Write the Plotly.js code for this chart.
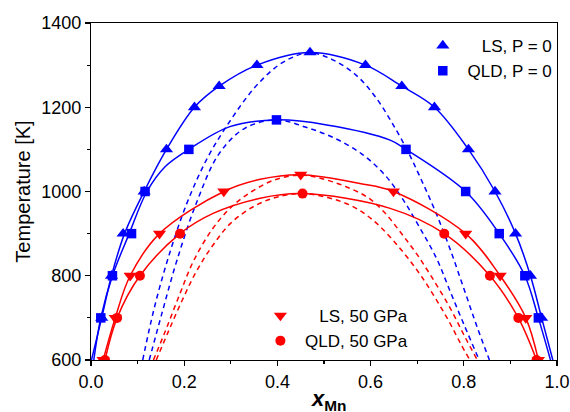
<!DOCTYPE html>
<html>
<head>
<meta charset="utf-8">
<script src="https://cdn.plot.ly/plotly-3.0.1.min.js"></script>
<style>html,body{margin:0;padding:0;background:#fff;}#chart{width:570px;height:412px;}</style>
</head>
<body>
<div id="chart"></div>
<script>
// ---- Marker data (x_Mn, T [K]) ----
const lsP0X  = [0.023,0.044,0.069,0.114,0.162,0.222,0.275,0.356,0.470,0.589,0.667,0.737,0.810,0.867,0.911,0.943,0.967];
const lsP0T  = [700,800,900,1000,1100,1200,1250,1300,1330,1300,1250,1200,1100,1000,900,800,700];
const qldP0X = [0.021,0.046,0.087,0.116,0.210,0.398,0.676,0.804,0.876,0.931,0.960];
const qldP0T = [700,800,900,1000,1100,1170,1100,1000,900,800,700];
const ls50X  = [0.026,0.052,0.084,0.147,0.285,0.450,0.649,0.804,0.878,0.933,0.960];
const ls50T  = [600,700,800,900,1000,1040,1000,900,800,700,600];
const qld50X = [0.030,0.056,0.105,0.191,0.454,0.758,0.856,0.917,0.956];
const qld50T = [600,700,800,900,995,900,800,700,600];

// ---- Binodal curves (solid) ----
const lsP0CurveX  = [0.001,0.023,0.044,0.072,0.114,0.162,0.222,0.275,0.356,0.470,0.589,0.667,0.737,0.810,0.867,0.911,0.943,0.967,0.991];
const lsP0CurveT  = [600,700,800,900,1000,1100,1200,1250,1300,1330,1300,1250,1200,1100,1000,900,800,700,600];
const qldP0CurveX = [0.006,0.021,0.046,0.082,0.120,0.160,0.210,0.298,0.398,0.506,0.642,0.676,0.804,0.876,0.931,0.960,0.986];
const qldP0CurveT = [600,700,800,900,1000,1060,1100,1154,1170,1158,1122,1100,1000,900,800,700,600];
const ls50CurveX  = [0.026,0.052,0.084,0.147,0.285,0.363,0.450,0.577,0.649,0.804,0.878,0.933,0.960];
const ls50CurveT  = [600,700,800,900,1000,1029,1040,1019,1000,900,800,700,600];
const qld50CurveX = [0.030,0.056,0.105,0.191,0.262,0.363,0.454,0.642,0.758,0.856,0.917,0.956];
const qld50CurveT = [600,700,800,900,948,984,995,960,900,800,700,600];

// ---- Spinodal curves (dashed) ----
const lsP0SpinX  = [0.111,0.135,0.165,0.205,0.250,0.300,0.350,0.400,0.440,0.470,0.520,0.570,0.610,0.645,0.680,0.710,0.740,0.770,0.800,0.828,0.855];
const lsP0SpinT  = [600,720,840,970,1080,1170,1245,1298,1322,1330,1312,1275,1225,1165,1095,1025,950,865,770,680,600];
const qldP0SpinX = [0.125,0.152,0.184,0.227,0.275,0.330,0.398,0.460,0.520,0.580,0.630,0.670,0.705,0.742,0.770,0.800,0.833];
const qldP0SpinT = [600,710,835,975,1090,1150,1170,1153,1128,1090,1040,980,915,840,765,685,600];
const ls50SpinX  = [0.134,0.160,0.190,0.220,0.260,0.300,0.345,0.395,0.450,0.500,0.550,0.595,0.630,0.665,0.700,0.735,0.770,0.800,0.829];
const ls50SpinT  = [600,670,755,835,910,962,1000,1028,1039,1029,1010,985,950,902,850,790,725,660,600];
const qld50SpinX = [0.140,0.165,0.195,0.225,0.260,0.300,0.350,0.400,0.455,0.510,0.555,0.590,0.620,0.650,0.680,0.710,0.740,0.770,0.795,0.813];
const qld50SpinT = [600,665,740,808,870,925,965,987,995,985,968,945,917,882,842,797,745,688,635,600];

const BLUE = '#0000ff', RED = '#ff0000';
const NB = '\u00a0';

function curve(x, y, color, dash) {
  return {x: x, y: y, mode: 'lines', type: 'scatter', showlegend: false, hoverinfo: 'skip',
          line: {color: color, width: 1.5, shape: 'spline', smoothing: 1, dash: dash || 'solid'}};
}
function marks(x, y, color, symbol, size, name, legend) {
  return {x: x, y: y, mode: 'markers', type: 'scatter', name: name, legend: legend,
          marker: {color: color, symbol: symbol, size: size, line: {width: 0}}};
}

const data = [
  curve(lsP0SpinX, lsP0SpinT, BLUE, '5px,4px'),
  curve(qldP0SpinX, qldP0SpinT, BLUE, '5px,4px'),
  curve(ls50SpinX, ls50SpinT, RED, '5px,4px'),
  curve(qld50SpinX, qld50SpinT, RED, '5px,4px'),
  curve(lsP0CurveX, lsP0CurveT, BLUE),
  curve(qldP0CurveX, qldP0CurveT, BLUE),
  curve(ls50CurveX, ls50CurveT, RED),
  curve(qld50CurveX, qld50CurveT, RED),
  marks(lsP0X, lsP0T, BLUE, 'triangle-up', 11.5, NB+NB+NB+NB+'LS, P = 0', 'legend'),
  marks(qldP0X, qldP0T, BLUE, 'square', 9.5, NB+'QLD, P = 0', 'legend'),
  marks(ls50X, ls50T, RED, 'triangle-down', 11.5, NB+NB+NB+NB+'LS, 50 GPa', 'legend2'),
  marks(qld50X, qld50T, RED, 'circle', 10, NB+'QLD, 50 GPa', 'legend2')
];

const axisCommon = {
  showline: true, linecolor: '#000', linewidth: 1.2, mirror: true,
  ticks: 'outside', ticklen: 5, tickwidth: 1.2, tickcolor: '#000',
  showgrid: false, zeroline: false,
  tickfont: {size: 18, color: '#000'}
};

const layout = {
  width: 570, height: 412,
  margin: {l: 91, r: 13, t: 23, b: 52},
  paper_bgcolor: '#fff', plot_bgcolor: '#fff',
  font: {family: '"Liberation Sans", Arial, sans-serif', color: '#000'},
  xaxis: Object.assign({}, axisCommon, {
    range: [0, 1], dtick: 0.2, tick0: 0, tickformat: '.1f',
    minor: {dtick: 0.1, ticks: 'outside', ticklen: 3, tickwidth: 1.2, tickcolor: '#000'}
  }),
  yaxis: Object.assign({}, axisCommon, {
    range: [600, 1400], dtick: 200, tick0: 600,
    minor: {dtick: 100, ticks: 'outside', ticklen: 3, tickwidth: 1.2, tickcolor: '#000'},
    title: {text: 'Temperature [K]', font: {size: 20}, standoff: 5}
  }),
  annotations: [{
    text: '<b><i>x</i><sub style="font-size:13px">Mn</sub></b>',
    xref: 'paper', yref: 'paper', x: 0.51, y: -0.070, xanchor: 'center', yanchor: 'top',
    showarrow: false, font: {size: 22, color: '#000'}
  }],
  legend: {x: 0.712, y: 0.985, xanchor: 'left', yanchor: 'top', bgcolor: 'rgba(0,0,0,0)',
           borderwidth: 0, font: {size: 17}, tracegroupgap: 0},
  legend2: {x: 0.3635, y: 0.184, xanchor: 'left', yanchor: 'top', bgcolor: 'rgba(0,0,0,0)',
           borderwidth: 0, font: {size: 17}, tracegroupgap: 0},
  showlegend: true
};

Plotly.newPlot('chart', data, layout, {staticPlot: true, displayModeBar: false});
</script>
</body>
</html>
